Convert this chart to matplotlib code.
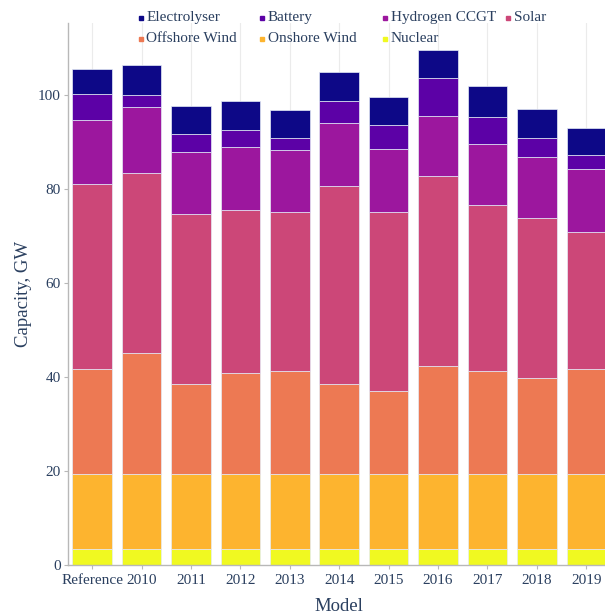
import matplotlib
matplotlib.use("Agg")
import matplotlib.pyplot as plt
from matplotlib.lines import Line2D
import numpy as np

plt.rcParams['font.family'] = ['Liberation Serif', 'DejaVu Serif']

models = ["Reference", "2010", "2011", "2012", "2013", "2014", "2015", "2016", "2017", "2018", "2019"]
nuclear = [3.4, 3.4, 3.4, 3.4, 3.4, 3.4, 3.4, 3.4, 3.4, 3.4, 3.4]
onshore_wind = [15.9, 15.9, 15.9, 15.9, 15.9, 15.9, 15.9, 15.9, 15.9, 15.9, 15.9]
offshore_wind = [22.5, 25.7, 19.2, 21.6, 22.0, 19.3, 17.7, 23.0, 22.0, 20.4, 22.5]
solar = [39.2, 38.3, 36.1, 34.6, 33.7, 42.1, 38.1, 40.5, 35.3, 34.2, 29.1]
hydrogen_ccgt = [13.7, 14.1, 13.3, 13.4, 13.2, 13.3, 13.3, 12.7, 13.0, 12.8, 13.3]
battery = [5.5, 2.5, 3.7, 3.7, 2.6, 4.7, 5.1, 8.2, 5.8, 4.1, 3.0]
electrolyser = [5.3, 6.4, 6.0, 6.1, 6.0, 6.1, 6.0, 5.9, 6.5, 6.2, 5.7]

series_names = ["Nuclear", "Onshore Wind", "Offshore Wind", "Solar", "Hydrogen CCGT", "Battery", "Electrolyser"]
series_values = [nuclear, onshore_wind, offshore_wind, solar, hydrogen_ccgt, battery, electrolyser]
colors = ["#f0f921", "#fdb42f", "#ed7953", "#cc4778", "#9c179e", "#5c01a6", "#0d0887"]

text_color = "#2a3f5f"
axis_color = "#b8b8b8"

W, H = 605, 616
fig = plt.figure(figsize=(W / 100, H / 100), dpi=100)
ax_left, ax_right, ax_top, ax_bottom = 67.5, 611, 23, 565
ax = fig.add_axes([ax_left / W, 1 - ax_bottom / H, (ax_right - ax_left) / W, (ax_bottom - ax_top) / H])

x = np.arange(len(models))
bottom = np.zeros(len(models))
for name, vals, col in zip(series_names, series_values, colors):
    v = np.array(vals)
    ax.bar(x, v, width=0.8, bottom=bottom, color=col, edgecolor="#E5ECF6",
           linewidth=0.5, label=name, zorder=2)
    bottom += v

ax.set_xlim(-0.5, 10.5)
ax.set_ylim(0, 115.3)
ax.set_xticks(x)
ax.set_xticklabels(models)
ax.set_yticks([0, 20, 40, 60, 80, 100])

for s in ["top", "right"]:
    ax.spines[s].set_visible(False)
for s in ["left", "bottom"]:
    ax.spines[s].set_color(axis_color)
    ax.spines[s].set_linewidth(1.0)

ax.tick_params(axis="both", colors=axis_color, labelcolor=text_color, labelsize=11,
               length=3, width=0.8, direction="out")
ax.tick_params(axis="y", pad=2)
ax.tick_params(axis="x", pad=3.5)
ax.xaxis.grid(True, color="#ebebeb", linewidth=0.8, zorder=0)
ax.yaxis.grid(False)
ax.set_axisbelow(True)

ax.set_ylabel("Capacity, GW", fontsize=13.5, color=text_color, labelpad=4)
ax.set_xlabel("Model", fontsize=13.5, color=text_color, labelpad=8)

# Legend (two rows, fixed-width columns, as in the reference)
legend_rows = [["Electrolyser", "Battery", "Hydrogen CCGT", "Solar"],
               ["Offshore Wind", "Onshore Wind", "Nuclear"]]
color_of = dict(zip(series_names, colors))
col_x = [140.5, 262.0, 384.5, 508.0]
row_y = [17.5, 38.5]
for r, row in enumerate(legend_rows):
    for c, name in enumerate(row):
        mx = col_x[c] / W
        my = 1 - row_y[r] / H
        fig.add_artist(Line2D([mx], [my], marker="s", markersize=3.0, color=color_of[name],
                              linestyle="none", transform=fig.transFigure))
        fig.text(mx + 6 / W, my, name, fontsize=11, color=text_color,
                 ha="left", va="center")

fig.savefig("out.png", dpi=100)
